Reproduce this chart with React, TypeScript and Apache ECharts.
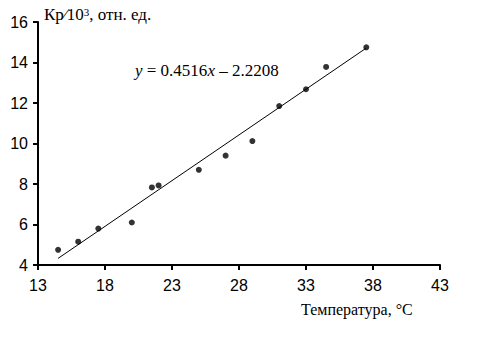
import React, { useEffect, useRef } from "react";
import * as echarts from "echarts";

const temperature = [14.5, 16.0, 17.5, 20.0, 21.5, 22.0, 25.0, 27.0, 29.0, 31.0, 33.0, 34.5, 37.5];
const kpValues = [4.75, 5.15, 5.8, 6.1, 7.83, 7.93, 8.7, 9.4, 10.12, 11.85, 12.68, 13.78, 14.75];
const slope = 0.4516;
const intercept = -2.2208;
const trendRange = [14.5, 37.5];
const xTicks = { min: 13, max: 43, interval: 5 };
const yTicks = { min: 4, max: 16, interval: 2 };

export default function App() {
  const ref = useRef<HTMLDivElement>(null);
  useEffect(() => {
    document.body.style.margin = "0";
    if (!ref.current) return;
    const chart = echarts.init(ref.current, null, { renderer: "svg" });
    const points = temperature.map((t, i) => [t, kpValues[i]]);
    const trend = trendRange.map((x) => [x, slope * x + intercept]);
    const serif = "Liberation Serif, Times New Roman";
    const axisCommon = {
      axisLine: { show: true, lineStyle: { color: "#000", width: 2 } },
      axisTick: { show: true, inside: false, length: 5, lineStyle: { color: "#000", width: 2 } },
      splitLine: { show: false },
      axisLabel: { color: "#000", fontFamily: "Liberation Sans, Arial", fontSize: 16 },
    };
    chart.setOption({
      animation: false,
      backgroundColor: "#fff",
      grid: { left: 38, right: 48, top: 22, bottom: 76 },
      xAxis: {
        type: "value",
        ...xTicks,
        ...axisCommon,
        axisLabel: { ...axisCommon.axisLabel, margin: 12 },
      },
      yAxis: {
        type: "value",
        ...yTicks,
        ...axisCommon,
        axisLabel: { ...axisCommon.axisLabel, margin: 10 },
      },
      graphic: [
        {
          type: "text",
          left: 44,
          top: 6,
          style: {
            text: "{a|Кр⁄10}{s|3}{a|, отн. ед.}",
            rich: {
              a: { fontFamily: serif, fontSize: 17, fill: "#000", verticalAlign: "bottom" },
              s: { fontFamily: serif, fontSize: 11, fill: "#000", verticalAlign: "top", padding: [0, 0, 6, 0] },
            },
          },
        },
        {
          type: "text",
          left: 135,
          top: 62,
          style: {
            text: "{i|y} = 0.4516{i|x} – 2.2208",
            font: "17px 'Liberation Serif', 'Times New Roman'",
            fill: "#000",
            rich: {
              i: { fontFamily: serif, fontSize: 17, fontStyle: "italic", fill: "#000" },
            },
          },
        },
        {
          type: "text",
          left: 301,
          top: 301,
          style: {
            text: "Температура, °С",
            font: "16px 'Liberation Serif', 'Times New Roman'",
            fill: "#000",
          },
        },
      ],
      series: [
        {
          type: "line",
          data: trend,
          symbol: "none",
          lineStyle: { color: "#000", width: 1 },
          silent: true,
        },
        {
          type: "scatter",
          data: points,
          symbol: "circle",
          symbolSize: 6,
          itemStyle: { color: "#000" },
        },
      ],
    });
    return () => chart.dispose();
  }, []);
  return <div ref={ref} style={{ width: 488, height: 341 }} />;
}
